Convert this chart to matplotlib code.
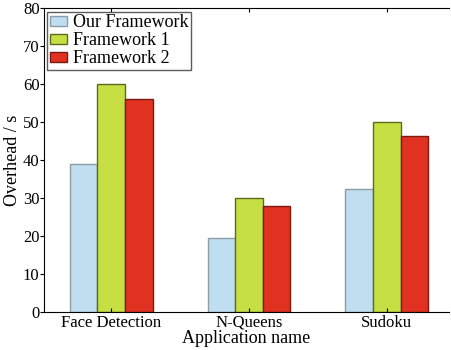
import numpy as np
import matplotlib
matplotlib.use("Agg")
import matplotlib.pyplot as plt

plt.rcParams['font.family'] = ['Liberation Serif', 'DejaVu Serif']

apps = ["Face Detection", "N-Queens", "Sudoku"]
series_names = ["Our Framework", "Framework 1", "Framework 2"]
ours = [39, 19.5, 32.5]
fw1 = [60, 30, 50]
fw2 = [56, 28, 46.3]

colors = ["#bfdff1", "#c6e044", "#e03121"]
edges = ["#8c9ca8", "#5e6a1c", "#7a1a10"]

fig = plt.figure(figsize=(4.51, 3.5), dpi=100)
ax = fig.add_axes([0.097, 0.108, 0.898, 0.869])

x = np.arange(len(apps))
w = 0.2
for i, vals in enumerate([ours, fw1, fw2]):
    ax.bar(x + (i - 1) * w, vals, w, color=colors[i], edgecolor=edges[i],
           linewidth=1.0, label=series_names[i])

ax.set_xlim(-0.49, 2.45)
ax.set_ylim(0, 80)
ax.set_yticks(range(0, 81, 10))
ax.set_xticks(x)
ax.set_xticklabels(apps)
ax.spines['right'].set_visible(False)
ax.tick_params(axis='x', direction='in', top=True, length=3, labelsize=12, pad=2)
ax.tick_params(axis='y', direction='out', length=3, labelsize=12, pad=0)
ax.set_xlabel("Application name", fontsize=13, labelpad=-1)
ax.set_ylabel("Overhead / s", fontsize=13)
ax.yaxis.set_label_coords(-0.055, 0.5)

leg = ax.legend(loc='upper left', fontsize=13, frameon=True, fancybox=False,
                edgecolor='#333333', borderpad=0.15, labelspacing=0.05,
                handlelength=0.95, handleheight=0.5, handletextpad=0.3,
                borderaxespad=0.2)
leg.get_frame().set_linewidth(1.0)

fig.savefig("out.png", dpi=100)
